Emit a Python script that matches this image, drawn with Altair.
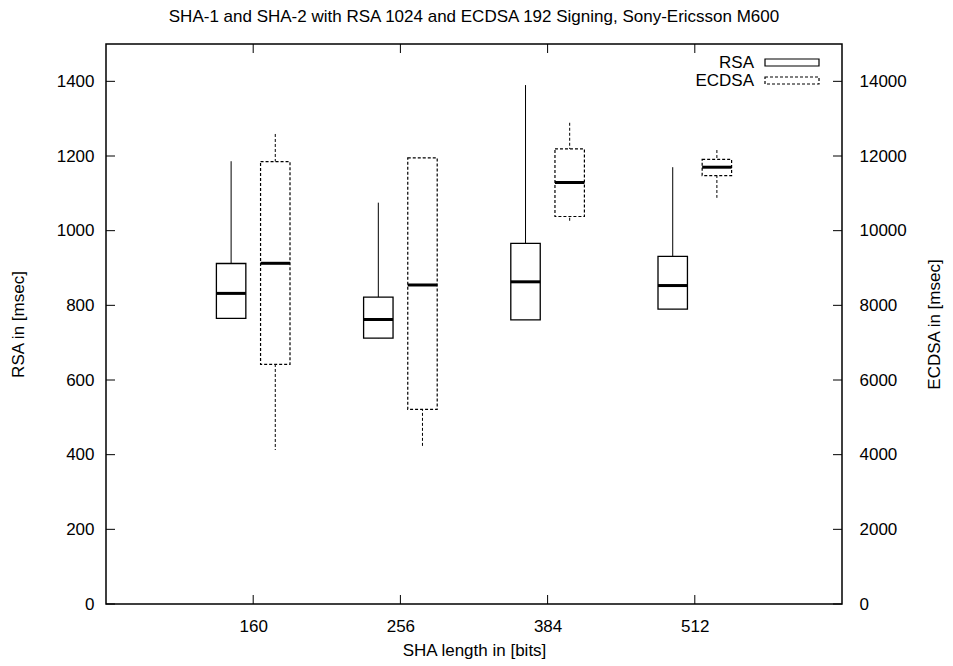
import altair as alt
import pandas as pd

# ---- data ----
sha_bits = ["160", "256", "384", "512"]
slot = [1, 2, 3, 4]

rsa_min = [765, 712, 761, 790]
rsa_q1 = [765, 712, 761, 790]
rsa_med = [832, 762, 863, 853]
rsa_q3 = [912, 822, 966, 931]
rsa_max = [1186, 1075, 1390, 1170]

ecdsa_min = [4125, 4214, 10230, 10880]
ecdsa_q1 = [6420, 5215, 10380, 11476]
ecdsa_med = [9126, 8545, 11290, 11700]
ecdsa_q3 = [11850, 11950, 12190, 11910]
ecdsa_max = [12590, 11950, 12890, 12160]

rsa_ticks = [0, 200, 400, 600, 800, 1000, 1200, 1400]
ecdsa_ticks = [0, 2000, 4000, 6000, 8000, 10000, 12000, 14000]

series_names = ["RSA", "ECDSA"]

# ---- tables ----
rsa_df = pd.DataFrame({"slot": slot, "min": rsa_min, "q1": rsa_q1, "med": rsa_med,
                       "q3": rsa_q3, "max": rsa_max})
ec_df = pd.DataFrame({"slot": slot, "min": ecdsa_min, "q1": ecdsa_q1, "med": ecdsa_med,
                      "q3": ecdsa_q3, "max": ecdsa_max})
slot_df = pd.DataFrame({"slot": slot})
rsa_tick_df = pd.DataFrame({"v": rsa_ticks})
ec_tick_df = pd.DataFrame({"v": ecdsa_ticks})
leg_df = pd.DataFrame({"name": series_names})

W, H = 736, 560
FONT = "Liberation Sans"
FS = 17
TICK = 9
DASH = [3, 2]

label_expr = "[" + ",".join("'%s'" % s for s in sha_bits) + "][datum.value - 1]"

x_scale = alt.Scale(domain=[0, 5], nice=False, zero=False)
x_axis = alt.Axis(values=slot, labelExpr=label_expr, title="SHA length in [bits]",
                  ticks=False, tickSize=0, domain=False, grid=False,
                  labelPadding=14, titlePadding=8)

rsa_scale = alt.Scale(domain=[0, 1500], nice=False)
ec_scale = alt.Scale(domain=[0, 15000], nice=False)
rsa_axis = alt.Axis(orient="left", values=rsa_ticks, format="d", title="RSA in [msec]",
                    ticks=False, tickSize=0, domain=False, grid=False,
                    labelPadding=12, titlePadding=29)
ec_axis = alt.Axis(orient="right", values=ecdsa_ticks, format="d", title="ECDSA in [msec]",
                   titleAngle=270, ticks=False, tickSize=0, domain=False, grid=False,
                   labelPadding=17, titlePadding=37)


def X(field):
    return alt.X(field + ":Q", scale=x_scale, axis=x_axis)


def YR(field):
    return alt.Y(field + ":Q", scale=rsa_scale, axis=rsa_axis)


def YE(field):
    return alt.Y(field + ":Q", scale=ec_scale, axis=ec_axis)


# ---- frame ticks (inward, gnuplot style) ----
bottom_ticks = alt.Chart(slot_df).mark_rule(color="black", strokeWidth=1).encode(
    x=X("slot"), y=alt.value(H), y2=alt.value(H - TICK))
top_ticks = alt.Chart(slot_df).mark_rule(color="black", strokeWidth=1).encode(
    x=X("slot"), y=alt.value(0), y2=alt.value(TICK))
left_ticks = alt.Chart(rsa_tick_df).mark_rule(color="black", strokeWidth=1).encode(
    x=alt.value(0), x2=alt.value(TICK), y=YR("v"))
right_ticks = alt.Chart(ec_tick_df).mark_rule(color="black", strokeWidth=1).encode(
    x=alt.value(W), x2=alt.value(W - TICK), y=YE("v"))

# ---- RSA boxes ----
rsa_base = alt.Chart(rsa_df).transform_calculate(
    xc="datum.slot - 0.15", lo="datum.slot - 0.25", hi="datum.slot - 0.05")
rsa_whisk = rsa_base.mark_rule(color="black", strokeWidth=1).encode(
    x=X("xc"), y=YR("max"), y2="min:Q")
rsa_box = rsa_base.mark_rect(fill="white", stroke="black", strokeWidth=1.3).encode(
    x=X("lo"), x2="hi:Q", y=YR("q1"), y2="q3:Q")
rsa_medl = rsa_base.mark_rule(color="black", strokeWidth=3).encode(
    x=X("lo"), x2="hi:Q", y=YR("med"))

# ---- ECDSA boxes ----
ec_base = alt.Chart(ec_df).transform_calculate(
    xc="datum.slot + 0.15", lo="datum.slot + 0.05", hi="datum.slot + 0.25")
ec_whisk = ec_base.mark_rule(color="black", strokeWidth=1, strokeDash=DASH).encode(
    x=X("xc"), y=YE("max"), y2="min:Q")
ec_box = ec_base.mark_rect(fill="white", stroke="black", strokeWidth=1.2,
                           strokeDash=DASH).encode(
    x=X("lo"), x2="hi:Q", y=YE("q1"), y2="q3:Q")
ec_medl = ec_base.mark_rule(color="black", strokeWidth=3).encode(
    x=X("lo"), x2="hi:Q", y=YE("med"))

rsa_layer = alt.layer(bottom_ticks, top_ticks, left_ticks, rsa_whisk, rsa_box, rsa_medl)
ec_layer = alt.layer(right_ticks, ec_whisk, ec_box, ec_medl)

# ---- key (top right, gnuplot style) ----
def key_entry(name, ytop, dashed):
    src = alt.Chart(leg_df).transform_filter("datum.name == '%s'" % name)
    txt = src.mark_text(align="right", baseline="middle", fontSize=FS, font=FONT,
                        color="black").encode(
        text="name:N", x=alt.value(648), y=alt.value(ytop + 3.5))
    rect_kw = dict(fill="white", stroke="black", strokeWidth=1.2)
    if dashed:
        rect_kw["strokeDash"] = DASH
    box = src.mark_rect(**rect_kw).encode(
        x=alt.value(659), x2=alt.value(713), y=alt.value(ytop), y2=alt.value(ytop + 7))
    return alt.layer(txt, box)

key_layer = alt.layer(key_entry("RSA", 15, False), key_entry("ECDSA", 33, True))

chart = alt.layer(rsa_layer, ec_layer, key_layer).resolve_scale(
    y="independent"
).properties(
    width=W, height=H,
    autosize="none",
    padding={"left": 98, "top": 36, "right": 103, "bottom": 58},
    title=alt.Title("SHA-1 and SHA-2 with RSA 1024 and ECDSA 192 Signing, Sony-Ericsson M600",
                    anchor="middle", offset=18, fontSize=FS, fontWeight="normal",
                    font=FONT, color="black"),
).configure(
    font=FONT, background="white"
).configure_view(
    stroke="black", strokeWidth=1.5
).configure_axis(
    labelFont=FONT, titleFont=FONT, labelFontSize=FS, titleFontSize=FS,
    labelColor="black", titleColor="black", titleFontWeight="normal"
)

chart.save("out.html", embed_options={"renderer": "svg", "actions": False})
